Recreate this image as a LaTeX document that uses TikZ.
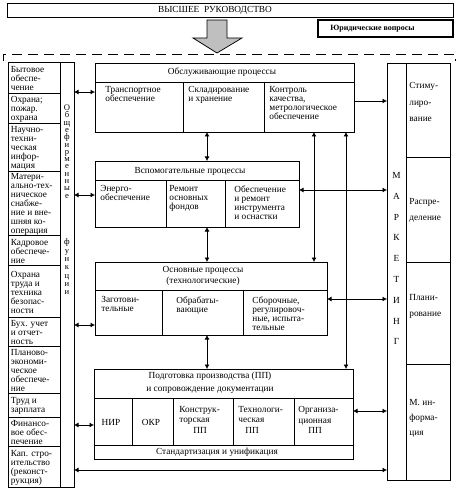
\documentclass[tikz,border=0pt]{standalone}
\usepackage{fontspec}
\setmainfont{Liberation Serif}
\usetikzlibrary{arrows.meta}
\begin{document}
\begin{tikzpicture}[x=1pt,y=-1pt,line width=0.75pt,
  bx/.style={draw, anchor=north west, inner sep=0pt, outer sep=0pt},
  tl/.style={font=\fontsize{9.3}{9}\selectfont, align=left, inner sep=0pt, anchor=north west},
  tcell/.style={font=\fontsize{9.3}{9}\selectfont, align=left, inner sep=0pt, anchor=west},
  tc/.style={font=\fontsize{9.3}{11}\selectfont, align=center, inner sep=0pt},
  ah/.tip={Latex[length=4.5pt,width=5pt]},
  dbl/.style={ah-ah},
  sgl/.style={-ah}]
\useasboundingbox (0,0) rectangle (458,489);

% top
\node[bx, minimum width=446pt, minimum height=14pt] (top) at (7,3) {};
\node[tc] (toptxt) at (215,10) {ВЫСШЕЕ\ \ РУКОВОДСТВО};
\node[bx, minimum width=135pt, minimum height=17pt, line width=1.1pt] (jur) at (318,20) {};
\node[font=\bfseries\fontsize{8}{9}\selectfont, anchor=west, inner sep=0pt] (jurt) at (330,28.5) {Юридические вопросы};
\draw[fill=gray!50] (207,20) -- (227,20) -- (227,38) -- (242,38) -- (217,53) -- (193,38) -- (207,38) -- cycle;
\draw[dash pattern=on 10pt off 6pt] (3,61) -- (3,54) -- (455,54) -- (455,61);

% left column
\node[bx, minimum width=52pt, minimum height=425pt] (lcells) at (8,62) {};
\node[bx, minimum width=14pt, minimum height=425pt] (lc) at (60,62) {};
\foreach \yy in {93,123,171,235,265,317,346,393,417,446} \draw (8,\yy) -- (60,\yy);
\node[tcell] (c1) at (10.5,78.5) {Бытовое\\обеспе-\\чение};
\node[tcell] (c2) at (10.5,109) {Охрана;\\пожар.\\охрана};
\node[tcell] (c3) at (10.5,148) {Научно-\\техни-\\ческая\\инфор-\\мация};
\node[tcell] (c4) at (10.5,204) {Матери-\\ально-тех-\\ническое\\снабже-\\ние и вне-\\шняя ко-\\операция};
\node[tcell] (c5) at (10.5,251) {Кадровое\\обеспече-\\ние};
\node[tcell] (c6) at (10.5,292) {Охрана\\труда и\\техника\\безопас-\\ности};
\node[tcell] (c7) at (10.5,332.5) {Бух. учет\\и отчет-\\ность};
\node[tcell] (c8) at (10.5,370.5) {Планово-\\экономи-\\ческое\\обеспече-\\ние};
\node[tcell] (c9) at (10.5,406) {Труд и\\зарплата};
\node[tcell] (c10) at (10.5,432.5) {Финансо-\\вое обес-\\печение};
\node[tcell] (c11) at (10.5,468) {Кап. стро-\\ительство\\(реконст-\\рукция)};
\node[font=\fontsize{8.6}{7.3}\selectfont, align=center, inner sep=0pt, anchor=north] (of1) at (67,104.5) {О\\б\\щ\\е\\ф\\и\\р\\м\\е\\н\\н\\ы\\е};
\node[font=\fontsize{8.6}{8.3}\selectfont, align=center, inner sep=0pt, anchor=north] (of2) at (67,238.5) {ф\\у\\н\\к\\ц\\и\\и};

% marketing column
\node[bx, minimum width=19pt, minimum height=417pt] (mk) at (387,63) {};
\node[bx, minimum width=44pt, minimum height=417pt] (mcells) at (406,63) {};
\foreach \yy in {157,262,364} \draw (406,\yy) -- (450,\yy);
\node[font=\fontsize{9.3}{20.8}\selectfont, align=center, inner sep=0pt, anchor=north] (mkt) at (396.5,172) {М\\А\\Р\\К\\Е\\Т\\И\\Н\\Г};
\node[font=\fontsize{9.3}{16.5}\selectfont, align=left, inner sep=0pt, anchor=north west] (m1) at (409,82) {Стиму-\\лиро-\\вание};
\node[font=\fontsize{9.3}{16.5}\selectfont, align=left, inner sep=0pt, anchor=north west] (m2) at (409,198) {Распре-\\деление};
\node[font=\fontsize{9.3}{16.5}\selectfont, align=left, inner sep=0pt, anchor=north west] (m3) at (409,294) {Плани-\\рование};
\node[font=\fontsize{9.3}{15}\selectfont, align=left, inner sep=0pt, anchor=north west] (m4) at (409,399) {М. ин-\\форма-\\ция};

% box 1
\node[bx, minimum width=259pt, minimum height=69pt] (b1) at (95,63) {};
\draw (95,82) -- (354,82); \draw (183,82) -- (183,132); \draw (264,82) -- (264,132);
\node[tc] (b1h) at (222,72) {Обслуживающие процессы};
\node[tl] (b1a) at (105,86) {Транспортное\\обеспечение};
\node[tl] (b1b) at (188,86) {Складирование\\и хранение};
\node[tl] (b1c) at (269,86) {Контроль\\качества,\\метрологическое\\обеспечение};

% box 2
\node[bx, minimum width=204pt, minimum height=66pt] (b2) at (95,161) {};
\draw (95,180) -- (299,180); \draw (166,180) -- (166,227); \draw (225,180) -- (225,227);
\node[tc] (b2h) at (190,171) {Вспомогательные процессы};
\node[tl] (b2a) at (100,185) {Энерго-\\обеспечение};
\node[tl] (b2b) at (169,185) {Ремонт\\основных\\фондов};
\node[tl] (b2c) at (234,185) {Обеспечение\\и ремонт\\инструмента\\и оснастки};

% box 3
\node[bx, minimum width=232pt, minimum height=73pt] (b3) at (95,262) {};
\draw (95,290) -- (327,290); \draw (162,290) -- (162,335); \draw (243,290) -- (243,335);
\node[font=\fontsize{9.3}{10.5}\selectfont, align=center, inner sep=0pt] (b3h) at (203,276) {Основные процессы\\(технологические)};
\node[tl] (b3a) at (101,296) {Заготови-\\тельные};
\node[tl] (b3b) at (176,296) {Обрабаты-\\вающие};
\node[tl] (b3c) at (252,296) {Сборочные,\\регулировоч-\\ные, испыта-\\тельные};

% box 4
\node[bx, minimum width=259pt, minimum height=90pt] (b4) at (94,369) {};
\draw (94,398) -- (353,398); \draw (94,445) -- (353,445);
\foreach \xx in {132,173,233,294} \draw (\xx,398) -- (\xx,445);
\node[font=\fontsize{9.3}{13}\selectfont, align=center, inner sep=0pt] (b4h) at (210,382.5) {Подготовка производства (ПП)\\и сопровождение документации};
\node[tc] (b4a) at (111,422) {НИР};
\node[tc] (b4b) at (151,422) {ОКР};
\node[font=\fontsize{9.3}{10.5}\selectfont, align=left, inner sep=0pt, anchor=north west] (b4c) at (179,406) {Конструк-\\торская\\\hspace*{14pt}ПП};
\node[font=\fontsize{9.3}{10.5}\selectfont, align=left, inner sep=0pt, anchor=north west] (b4d) at (238,406) {Технологи-\\ческая\\\hspace*{7pt}ПП};
\node[font=\fontsize{9.3}{10.5}\selectfont, align=left, inner sep=0pt, anchor=north west] (b4e) at (298,406) {Организа-\\ционная\\\hspace*{10pt}ПП};
\node[tc] (b4f) at (217,452) {Стандартизация и унификация};

% connectors
\coordinate (v1) at (207,0);
\coordinate (v2) at (314,0);
\coordinate (v3) at (346,0);
\draw[dbl] (b1.south -| v1) -- (b2.north -| v1);
\draw[dbl] (b2.south -| v1) -- (b3.north -| v1);
\draw[dbl] (b3.south -| v1) -- (b4.north -| v1);
\draw[dbl] (b1.south -| v2) -- (b3.north -| v2);
\draw[dbl] (b1.south -| v3) -- (b4.north -| v3);

\coordinate (h1) at (0,92);
\coordinate (h2) at (0,195);
\coordinate (h3) at (0,325);
\coordinate (h4) at (0,425);
\coordinate (h5) at (0,470);
\draw[dbl] (lc.east |- h1) -- (b1.west |- h1);
\draw[dbl] (lc.east |- h2) -- (b2.west |- h2);
\draw[dbl] (lc.east |- h3) -- (b3.west |- h3);
\draw[dbl] (lc.east |- h4) -- (b4.west |- h4);
\draw[dbl] (lc.east |- h5) -- (mk.west |- h5);

\coordinate (r1) at (0,101);
\coordinate (r2) at (0,190);
\coordinate (r3) at (0,299);
\coordinate (r4) at (0,411);
\draw[sgl] (b1.east |- r1) -- (mk.west |- r1);
\draw[dbl] (b2.east |- r2) -- (mk.west |- r2);
\draw[dbl] (b3.east |- r3) -- (mk.west |- r3);
\draw[dbl] (b4.east |- r4) -- (mk.west |- r4);
\end{tikzpicture}
\end{document}
